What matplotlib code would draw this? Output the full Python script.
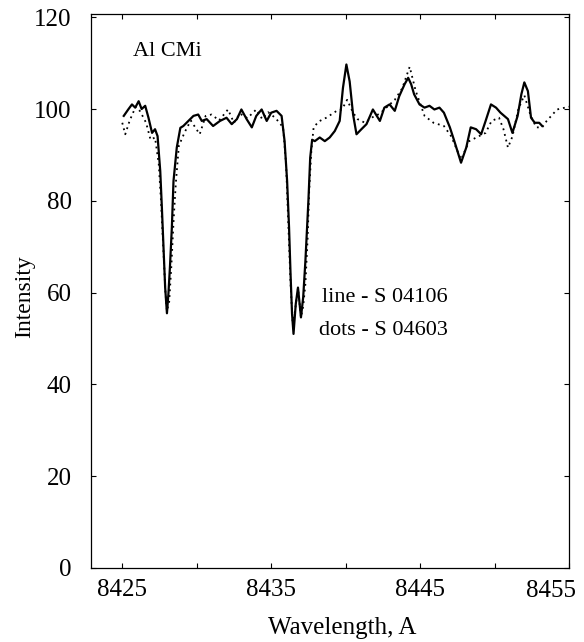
import matplotlib
matplotlib.use("Agg")
import matplotlib.pyplot as plt
import numpy as np

# Solid line - S 04106
line_wl = [8425.1, 8425.4, 8425.65, 8425.87, 8426.1, 8426.3, 8426.54, 8426.76, 8427.0, 8427.2,
           8427.37, 8427.55, 8427.66, 8427.77, 8427.88, 8428.0, 8428.1, 8428.2, 8428.33, 8428.44,
           8428.66, 8428.9, 8429.1, 8429.44, 8429.78, 8430.1, 8430.34, 8430.67, 8431.1, 8431.56,
           8432.0, 8432.35, 8432.7, 8433.0, 8433.35, 8433.7, 8434.0, 8434.36, 8434.7, 8435.0,
           8435.36, 8435.7, 8435.9, 8436.07, 8436.2, 8436.3, 8436.4, 8436.5, 8436.65, 8436.8,
           8437.0, 8437.15, 8437.3, 8437.5, 8437.62, 8437.75, 8437.93, 8438.26, 8438.6, 8438.93,
           8439.27, 8439.6, 8439.82, 8440.05, 8440.27, 8440.5, 8440.73, 8441.06, 8441.4, 8441.83,
           8442.3, 8442.6, 8442.95, 8443.3, 8443.6, 8443.96, 8444.2, 8444.4, 8444.6, 8444.96,
           8445.3, 8445.63, 8445.96, 8446.3, 8446.6, 8447.0, 8447.3, 8447.75, 8448.1, 8448.4,
           8448.76, 8449.1, 8449.4, 8449.76, 8450.1, 8450.4, 8450.9, 8451.2, 8451.55, 8451.8,
           8452.0, 8452.24, 8452.45, 8452.7, 8453.0, 8453.2]
line_int = [98.5, 99.9, 101.0, 100.3, 101.7, 100.0, 100.7, 98.1, 94.8, 95.6,
            94.1, 86.5, 78.5, 69.8, 61.1, 55.5, 59.8, 65.5, 74.2, 84.3,
            91.6, 95.9, 96.3, 97.4, 98.5, 98.8, 97.4, 97.8, 96.3, 97.4,
            98.1, 96.7, 97.8, 99.9, 97.8, 96.0, 98.5, 99.9, 97.4, 99.2,
            99.6, 98.5, 93.0, 84.3, 74.2, 64.1, 55.4, 51.0, 57.5, 61.1,
            54.6, 59.0, 67.0, 80.0, 89.4, 93.3, 93.0, 93.8, 93.0, 93.8,
            95.2, 97.4, 104.6, 109.7, 106.0, 98.8, 94.5, 95.6, 96.7, 99.9,
            97.4, 100.3, 101.0, 99.6, 102.8, 105.4, 106.8, 105.4, 103.2, 101.0,
            100.3, 100.7, 99.9, 100.3, 99.2, 96.0, 93.0, 88.3, 91.6, 96.0,
            95.6, 94.5, 97.4, 101.0, 100.3, 99.2, 97.8, 94.8, 98.5, 103.2,
            105.8, 103.9, 98.1, 97.0, 97.0, 96.3]

# Dotted line - S 04603
dots_wl = [8425.0, 8425.2, 8425.5, 8425.9, 8426.2, 8426.6, 8426.9, 8427.2, 8427.45, 8427.6,
           8427.75, 8427.9, 8428.0, 8428.15, 8428.3, 8428.45, 8428.6, 8428.8, 8429.2, 8429.6,
           8430.2, 8430.6, 8431.0, 8431.5, 8432.1, 8432.5, 8432.9, 8433.4, 8434.0, 8434.4,
           8434.8, 8435.3, 8435.8, 8436.0, 8436.15, 8436.3, 8436.45, 8436.6, 8436.8, 8437.0,
           8437.15, 8437.3, 8437.45, 8437.55, 8437.7, 8437.85, 8438.2, 8438.7, 8439.4, 8439.75,
           8440.1, 8440.5, 8440.8, 8441.3, 8441.8, 8442.3, 8442.8, 8443.3, 8443.8, 8444.3,
           8444.7, 8445.3, 8445.9, 8446.6, 8447.1, 8447.75, 8448.3, 8448.9, 8449.4, 8449.8,
           8450.3, 8450.6, 8450.9, 8451.2, 8451.6, 8452.0, 8452.4, 8452.8, 8453.2, 8453.5,
           8454.2, 8455.0]
dots_int = [97.0, 94.5, 97.5, 100.5, 99.5, 97.0, 93.3, 93.8, 88.0, 80.0,
            70.0, 60.0, 56.0, 58.0, 66.0, 76.0, 84.0, 92.0, 95.0, 97.5,
            94.5, 98.5, 98.8, 97.5, 99.9, 97.0, 99.0, 98.0, 99.9, 97.8,
            99.3, 98.0, 96.0, 88.0, 75.0, 62.0, 53.0, 56.0, 61.0, 54.6,
            57.0, 62.0, 72.0, 82.0, 91.0, 96.0, 97.3, 98.1, 99.6, 99.9,
            102.0, 99.2, 97.8, 97.0, 98.2, 99.0, 100.5, 102.0, 104.5, 109.2,
            104.0, 98.5, 97.0, 96.3, 94.0, 89.0, 93.0, 94.0, 94.8, 97.4,
            98.1, 95.6, 91.6, 94.0, 100.0, 103.0, 98.8, 96.0, 96.0, 97.4,
            99.9, 100.5]

x_major = [8425, 8435, 8445, 8455]
x_labels = ['8425', '8435', '8445', '']
x_minor = [8430, 8440, 8450]
y_ticks = [0, 20, 40, 60, 80, 100, 120]

plt.rcParams['font.family'] = ['Liberation Serif', 'DejaVu Serif']

W, H = 584, 642
fig = plt.figure(figsize=(W / 100, H / 100), dpi=100)
ax = fig.add_axes([91 / W, 1 - 568 / H, (569 - 91) / W, (568 - 14) / H])

ax.plot(line_wl, line_int, color='black', linewidth=1.6, solid_joinstyle='round')
ax.plot(dots_wl, dots_int, color='black', linewidth=1.3, linestyle=(0, (1, 2.2)))

ax.set_xlim(8422.9, 8455.0)
ax.set_ylim(0, 120.7)
ax.set_xticks(x_major)
ax.set_xticklabels(x_labels)
ax.set_xticks(x_minor, minor=True)
ax.set_yticks(y_ticks)
ax.tick_params(axis='both', which='both', direction='in', top=True, right=True,
               length=3.5, width=0.8, labelsize=18)
ax.tick_params(axis='x', which='major', pad=8)
ax.tick_params(axis='y', which='major', pad=14)
for s in ax.spines.values():
    s.set_linewidth(0.9)

# last x tick label, shifted left as in the original scan
fig.text(551 / W, 1 - 580 / H, '8455', fontsize=18, ha='center', va='top')

ax.set_xlabel('Wavelength, A', fontsize=18)
ax.set_ylabel('Intensity', fontsize=17)
ax.xaxis.set_label_coords(0.525, -0.088)
ax.yaxis.set_label_coords(-0.117, 0.49)

ax.text(8425.75, 112.6, 'Al CMi', fontsize=16, va='center', ha='left')
ax.text(8438.4, 58.9, 'line - S 04106', fontsize=16, va='center', ha='left')
ax.text(8438.2, 51.7, 'dots - S 04603', fontsize=16, va='center', ha='left')

fig.savefig('out.png', dpi=100)
